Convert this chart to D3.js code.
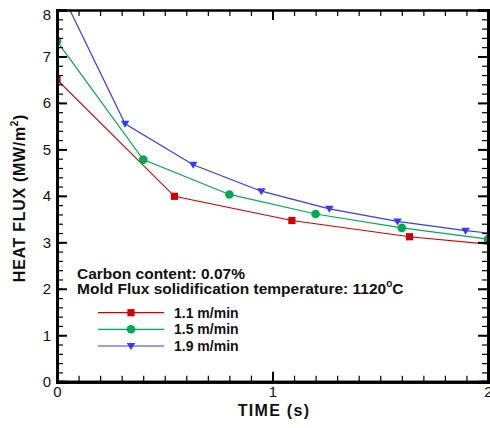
<!DOCTYPE html>
<html>
<head>
<meta charset="utf-8">
<script src="https://cdn.jsdelivr.net/npm/d3@7"></script>
<style>
  html, body { margin: 0; padding: 0; background: #fff; }
  svg { display: block; font-family: "Liberation Sans", Arial, sans-serif; }
</style>
</head>
<body>
<svg id="chart" width="490" height="428"></svg>
<script>
// Casting-speed series: time (s) vs. mold heat flux (MW/m^2)
const time11 = [0, 0.545, 1.09, 1.636, 2.18];
const flux11 = [6.5, 3.99, 3.47, 3.12, 2.88];
const time15 = [0, 0.4, 0.8, 1.2, 1.6, 2.0];
const flux15 = [7.33, 4.78, 4.03, 3.61, 3.31, 3.07];
const time19 = [0, 0.316, 0.632, 0.948, 1.264, 1.58, 1.896, 2.212];
const flux19 = [8.57, 5.55, 4.67, 4.10, 3.72, 3.45, 3.25, 3.10];

const seriesNames = ["1.1 m/min", "1.5 m/min", "1.9 m/min"];
const seriesColors = ["#d40000", "#00aa50", "#3838ff"];
const seriesShapes = ["square", "circle", "triangle"];

const xTicks = [0, 1, 2];
const yTicks = [0, 1, 2, 3, 4, 5, 6, 7, 8];
const noteLines = ["Carbon content: 0.07%", "Mold Flux solidification temperature: 1120"];

const svg = d3.select("#chart");
const padL = 57, padR = 488, padT = 10, padB = 381.7;

const x = d3.scaleLinear().domain([0, 2]).range([padL, padR]);
const y = d3.scaleLinear().domain([0, 8]).range([padB, padT]);

const series = [
  time11.map((t, i) => ({ t, v: flux11[i] })),
  time15.map((t, i) => ({ t, v: flux15[i] })),
  time19.map((t, i) => ({ t, v: flux19[i] }))
];

// Clip data to the plotting frame
svg.append("defs").append("clipPath").attr("id", "plotClip")
  .append("rect").attr("x", padL).attr("y", padT)
  .attr("width", padR - padL).attr("height", padB - padT);

const plot = svg.append("g").attr("clip-path", "url(#plotClip)");

function drawMarker(g, shape, color, cx, cy) {
  if (shape === "square") {
    g.append("rect").attr("x", cx - 3.6).attr("y", cy - 3.6)
      .attr("width", 7.2).attr("height", 7.2).attr("fill", color);
  } else if (shape === "circle") {
    g.append("circle").attr("cx", cx).attr("cy", cy).attr("r", 4.3).attr("fill", color);
  } else {
    g.append("path")
      .attr("d", `M${cx - 4.3},${cy - 3} L${cx + 4.3},${cy - 3} L${cx},${cy + 4} Z`)
      .attr("fill", color);
  }
}

const line = d3.line().x(d => x(d.t)).y(d => y(d.v));

series.forEach((s, k) => {
  plot.append("path").datum(s).attr("d", line)
    .attr("fill", "none").attr("stroke", seriesColors[k]).attr("stroke-width", 1.2);
  s.forEach(d => drawMarker(plot, seriesShapes[k], seriesColors[k], x(d.t), y(d.v)));
});

// Axes: major + minor ticks on all four sides, pointing inward
const xMinor = d3.range(0, 2.0001, 0.1).map(v => +v.toFixed(1));
const yMinor = d3.range(0, 8.0001, 0.2).map(v => +v.toFixed(1));

function styleAxis(g, w) {
  g.select(".domain").attr("stroke", "#000").attr("stroke-width", w);
  g.selectAll(".tick line").attr("stroke", "#000").attr("stroke-width", 1.2);
  g.selectAll(".tick text").attr("fill", "#111").style("font-size", "15px");
}

// bottom
svg.append("g").attr("transform", `translate(0,${padB})`)
  .call(d3.axisBottom(x).tickValues(xMinor).tickSize(-6).tickFormat(""))
  .call(g => styleAxis(g, 3));
svg.append("g").attr("transform", `translate(0,${padB})`)
  .call(d3.axisBottom(x).tickValues(xTicks).tickSize(-10).tickPadding(5).tickFormat(d3.format("d")))
  .call(g => styleAxis(g, 3))
  .call(g => g.selectAll(".tick line").attr("stroke-width", 2));
// top
svg.append("g").attr("transform", `translate(0,${padT})`)
  .call(d3.axisTop(x).tickValues(xMinor).tickSize(-6).tickFormat(""))
  .call(g => styleAxis(g, 2));
svg.append("g").attr("transform", `translate(0,${padT})`)
  .call(d3.axisTop(x).tickValues(xTicks).tickSize(-10).tickFormat(""))
  .call(g => styleAxis(g, 2))
  .call(g => g.selectAll(".tick line").attr("stroke-width", 2));
// left
svg.append("g").attr("transform", `translate(${padL},0)`)
  .call(d3.axisLeft(y).tickValues(yMinor).tickSize(-6).tickFormat(""))
  .call(g => styleAxis(g, 3));
svg.append("g").attr("transform", `translate(${padL},0)`)
  .call(d3.axisLeft(y).tickValues(yTicks).tickSize(-10).tickPadding(6).tickFormat(d3.format("d")))
  .call(g => styleAxis(g, 3))
  .call(g => g.selectAll(".tick line").attr("stroke-width", 2))
  // keep the top label inside the canvas
  .call(g => g.selectAll(".tick text").filter(d => d === 8).attr("y", 4.5));
// right
svg.append("g").attr("transform", `translate(${padR},0)`)
  .call(d3.axisRight(y).tickValues(yMinor).tickSize(-6).tickFormat(""))
  .call(g => styleAxis(g, 3));
svg.append("g").attr("transform", `translate(${padR},0)`)
  .call(d3.axisRight(y).tickValues(yTicks).tickSize(-10).tickFormat(""))
  .call(g => styleAxis(g, 3))
  .call(g => g.selectAll(".tick line").attr("stroke-width", 2));

// Axis titles
svg.append("text").attr("x", 274).attr("y", 415.7)
  .attr("text-anchor", "middle").attr("font-weight", "bold").attr("font-size", 16)
  .attr("letter-spacing", 1.3).attr("fill", "#111").text("TIME (s)");

const yTitle = svg.append("text")
  .attr("transform", `translate(25,198) rotate(-90)`)
  .attr("text-anchor", "middle").attr("font-weight", "bold").attr("font-size", 16)
  .attr("letter-spacing", 0.7).attr("fill", "#111");
yTitle.append("tspan").text("HEAT FLUX (MW/m");
yTitle.append("tspan").attr("dy", -7).attr("font-size", 10).text("2");
yTitle.append("tspan").attr("dy", 7).text(")");

// Annotation
svg.append("text").attr("x", 77).attr("y", 279.3)
  .attr("font-weight", "bold").attr("font-size", 15.5).attr("fill", "#111")
  .text(noteLines[0]);
const note2 = svg.append("text").attr("x", 77).attr("y", 294.3)
  .attr("font-weight", "bold").attr("font-size", 15.5).attr("fill", "#111");
note2.append("tspan").text(noteLines[1]);
note2.append("tspan").attr("dy", -7).attr("font-size", 10).text("o");
note2.append("tspan").attr("dy", 7).text("C");

// Legend
const legendRows = [312.7, 329.3, 346];
seriesNames.forEach((name, k) => {
  const g = svg.append("g");
  const ly = legendRows[k];
  g.append("line").attr("x1", 98).attr("x2", 164).attr("y1", ly).attr("y2", ly)
    .attr("stroke", seriesColors[k]).attr("stroke-width", 1.2);
  drawMarker(g, seriesShapes[k], seriesColors[k], 131, ly);
  g.append("text").attr("x", 174).attr("y", ly + 5)
    .attr("font-weight", "bold").attr("font-size", 14).attr("fill", "#111").text(name);
});
</script>
</body>
</html>
